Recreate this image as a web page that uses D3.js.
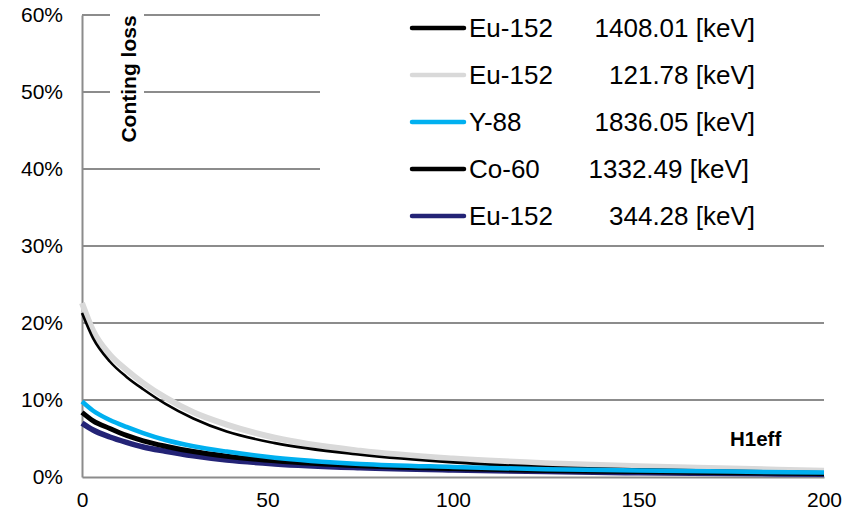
<!DOCTYPE html>
<html>
<head>
<meta charset="utf-8">
<script src="https://cdn.jsdelivr.net/npm/d3@7"></script>
<style>
  html, body { margin: 0; padding: 0; background: #fff; }
  svg { display: block; font-family: "Liberation Sans", Arial, sans-serif; }
</style>
</head>
<body>
<svg id="chart" width="850" height="514"></svg>
<script>
// ---- data ----
const xValues = [0, 3, 7.5, 12, 16.5, 22.5, 30, 39, 52, 75, 100, 125, 150, 175, 200];
const eu152_121 = [22.6, 19.0, 15.9, 13.9, 12.2, 10.3, 8.4, 6.8, 5.1, 3.4, 2.4, 1.8, 1.4, 1.1, 0.8];
const eu152_1408 = [21.3, 18.0, 15.0, 13.0, 11.4, 9.5, 7.6, 5.9, 4.4, 2.9, 1.9, 1.3, 1.0, 0.8, 0.6];
const eu152_344 = [7.0, 6.1, 5.2, 4.5, 3.9, 3.35, 2.75, 2.2, 1.7, 1.2, 0.9, 0.7, 0.55, 0.45, 0.35];
const co60_1332 = [8.4, 7.3, 6.3, 5.4, 4.7, 4.0, 3.3, 2.7, 2.1, 1.45, 1.1, 0.85, 0.7, 0.55, 0.45];
const y88_1836 = [9.8, 8.6, 7.4, 6.5, 5.7, 4.8, 4.0, 3.3, 2.5, 1.7, 1.3, 1.0, 0.85, 0.7, 0.6];

const legendNames = ["Eu-152", "Eu-152", "Y-88", "Co-60", "Eu-152"];
const legendEnergies = ["1408.01 [keV]", "121.78 [keV]", "1836.05 [keV]", "1332.49 [keV]", "344.28 [keV]"];
const legendColors = ["#000000", "#d9d9d9", "#00b0f0", "#000000", "#232376"];

const yTicks = [0, 0.1, 0.2, 0.3, 0.4, 0.5, 0.6];
const xTicks = [0, 50, 100, 150, 200];
const yTitle = "Conting loss";
const xTitle = "H1eff";

// series in drawing order
const series = [
  { values: eu152_121, color: "#d9d9d9", width: 6 },
  { values: eu152_1408, color: "#000000", width: 2.6 },
  { values: eu152_344, color: "#232376", width: 5.5 },
  { values: co60_1332, color: "#000000", width: 5 },
  { values: y88_1836, color: "#00b0f0", width: 4.5 }
];

// ---- chart ----
const svg = d3.select("#chart");
const x = d3.scaleLinear().domain([0, 200]).range([82, 824]);
const y = d3.scaleLinear().domain([0, 0.6]).range([477, 15]);
const gridColor = "#8c8c8c";

// gridlines
svg.append("g").selectAll("line").data(yTicks.filter(d => d > 0)).join("line")
  .attr("x1", x(0)).attr("x2", x(200))
  .attr("y1", d => y(d)).attr("y2", d => y(d))
  .attr("stroke", gridColor).attr("stroke-width", 2);

// y axis
const yAxis = d3.axisLeft(y).tickValues(yTicks).tickFormat(d3.format(".0%")).tickSize(0).tickPadding(19);
const gy = svg.append("g").attr("transform", `translate(${x(0)},0)`).call(yAxis);
gy.select(".domain").attr("stroke", gridColor).attr("stroke-width", 2);
gy.selectAll("text").attr("font-size", 21).attr("fill", "#000")
  .attr("font-family", "Liberation Sans, Arial, sans-serif");

// x axis
const xAxis = d3.axisBottom(x).tickValues(xTicks).tickFormat(d3.format("d")).tickSize(0).tickPadding(15);
const gx = svg.append("g").attr("transform", `translate(0,${y(0)})`).call(xAxis);
gx.select(".domain").attr("stroke", gridColor).attr("stroke-width", 2);
gx.selectAll("text").attr("font-size", 21).attr("fill", "#000")
  .attr("font-family", "Liberation Sans, Arial, sans-serif");

// lines
const line = d3.line().x((d, i) => x(xValues[i])).y(d => y(d / 100)).curve(d3.curveMonotoneX);
svg.append("g").selectAll("path").data(series).join("path")
  .attr("d", s => line(s.values))
  .attr("fill", "none")
  .attr("stroke", s => s.color)
  .attr("stroke-width", s => s.width)
  .attr("stroke-linejoin", "round")
  .attr("stroke-linecap", "butt");

// y title with white background
svg.append("rect").attr("x", 110).attr("y", 8).attr("width", 34).attr("height", 142).attr("fill", "#fff");
svg.append("text")
  .attr("transform", `translate(136,${79}) rotate(-90)`)
  .attr("text-anchor", "middle")
  .attr("font-size", 21).attr("font-weight", "bold")
  .text(yTitle);

// x title
svg.append("text").attr("x", 730).attr("y", 446)
  .attr("font-size", 20.5).attr("font-weight", "bold")
  .text(xTitle);

// legend
svg.append("rect").attr("x", 320).attr("y", 0).attr("width", 530).attr("height", 238).attr("fill", "#fff");
const lg = svg.append("g").selectAll("g").data(legendNames).join("g")
  .attr("transform", (d, i) => `translate(0,${28 + i * 47})`);
lg.append("line").attr("x1", 412).attr("x2", 464).attr("y1", 0).attr("y2", 0)
  .attr("stroke", (d, i) => legendColors[i]).attr("stroke-width", 4.5).attr("stroke-linecap", "round");
lg.append("text").attr("x", 469).attr("y", 9).attr("font-size", 26).text(d => d);
lg.append("text").attr("x", (d, i) => i === 3 ? 749 : 755).attr("y", 9).attr("font-size", 26)
  .attr("text-anchor", "end").text((d, i) => legendEnergies[i]);
</script>
</body>
</html>
